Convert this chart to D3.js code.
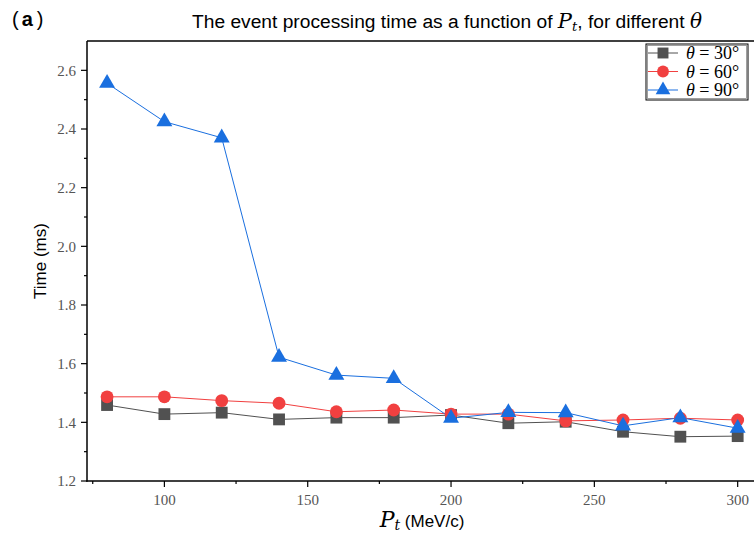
<!DOCTYPE html>
<html>
<head>
<meta charset="utf-8">
<script src="https://cdn.jsdelivr.net/npm/d3@7"></script>
<style>
  body { margin: 0; background: #fff; }
  svg { display: block; }
</style>
</head>
<body>
<svg id="chart" width="754" height="535"></svg>
<script>
// data
const pt = [80, 100, 120, 140, 160, 180, 200, 220, 240, 260, 280, 300];
const time30 = [1.459, 1.428, 1.433, 1.410, 1.416, 1.416, 1.425, 1.397, 1.402, 1.368, 1.351, 1.353];
const time60 = [1.487, 1.487, 1.474, 1.465, 1.436, 1.442, 1.428, 1.428, 1.405, 1.408, 1.414, 1.408];
const time90 = [2.556, 2.425, 2.370, 1.622, 1.561, 1.550, 1.414, 1.434, 1.433, 1.388, 1.416, 1.380];
const seriesNames = ["30", "60", "90"];
const xTicks = [100, 150, 200, 250, 300];
const yTicks = [1.2, 1.4, 1.6, 1.8, 2.0, 2.2, 2.4, 2.6];

const series = [
  {name: seriesNames[0], values: time30, color: "#515151", symbol: d3.symbolSquare, size: 140},
  {name: seriesNames[1], values: time60, color: "#F14040", symbol: d3.symbolCircle, size: 130},
  {name: seriesNames[2], values: time90, color: "#1A6FDF", symbol: d3.symbolTriangle, size: 110}
];

const svg = d3.select("#chart");
const plotLeft = 87, plotTop = 41, plotBottom = 481;

const x = d3.scaleLinear().domain([73, 305.8]).range([plotLeft, 754.3]);
const y = d3.scaleLinear().domain([1.2, 2.7]).range([plotBottom, plotTop]);

const tickFont = "'Liberation Serif', 'DejaVu Serif', serif";
const sans = "'Liberation Sans', Arial, sans-serif";
const mathFont = "'DejaVu Serif', serif";

// frame
svg.append("line").attr("x1", plotLeft).attr("x2", 754).attr("y1", plotTop).attr("y2", plotTop)
   .attr("stroke", "#000").attr("stroke-width", 1.5);

// y axis
const yAxis = svg.append("g").attr("transform", `translate(${plotLeft},0)`);
yAxis.append("line").attr("x1", 0).attr("x2", 0).attr("y1", plotTop).attr("y2", plotBottom + 0.75)
     .attr("stroke", "#000").attr("stroke-width", 1.5);
d3.range(1.3, 2.7, 0.2).forEach(v => {
  yAxis.append("line").attr("x1", -3).attr("x2", 0).attr("y1", y(v)).attr("y2", y(v))
       .attr("stroke", "#000").attr("stroke-width", 1.2);
});
yTicks.forEach(v => {
  yAxis.append("line").attr("x1", -6).attr("x2", 0).attr("y1", y(v)).attr("y2", y(v))
       .attr("stroke", "#000").attr("stroke-width", 1.2);
  yAxis.append("text").attr("x", -11).attr("y", y(v)).attr("dy", "0.35em")
       .attr("text-anchor", "end").style("font-family", tickFont).style("font-size", "15px")
       .attr("fill", "#555").text(d3.format(".1f")(v));
});

// x axis
const xAxis = svg.append("g").attr("transform", `translate(0,${plotBottom})`);
xAxis.append("line").attr("x1", plotLeft - 0.75).attr("x2", 754).attr("y1", 0).attr("y2", 0)
     .attr("stroke", "#000").attr("stroke-width", 1.5);
[75, 125, 175, 225, 275].forEach(v => {
  xAxis.append("line").attr("x1", x(v)).attr("x2", x(v)).attr("y1", 0).attr("y2", 3)
       .attr("stroke", "#000").attr("stroke-width", 1.2);
});
xTicks.forEach(v => {
  xAxis.append("line").attr("x1", x(v)).attr("x2", x(v)).attr("y1", 0).attr("y2", 6)
       .attr("stroke", "#000").attr("stroke-width", 1.2);
  xAxis.append("text").attr("x", x(v)).attr("y", 24)
       .attr("text-anchor", "middle").style("font-family", tickFont).style("font-size", "15px")
       .attr("fill", "#555").text(v);
});

// axis titles
svg.append("text")
   .attr("transform", `translate(46,${(plotTop + plotBottom) / 2}) rotate(-90)`)
   .attr("text-anchor", "middle")
   .style("font-family", sans).style("font-size", "17px")
   .text("Time (ms)");

const xt = svg.append("text").attr("x", 422).attr("y", 527).attr("text-anchor", "middle")
   .style("font-family", sans).style("font-size", "17px");
xt.append("tspan").style("font-family", mathFont).style("font-style", "italic")
  .style("font-size", "22px").text("P");
xt.append("tspan").style("font-family", mathFont).style("font-style", "italic")
  .style("font-size", "14px").attr("dy", 3).text("t");
xt.append("tspan").attr("dy", -3).text(" (MeV/c)");

// title
const tt = svg.append("text").attr("x", 447).attr("y", 28).attr("text-anchor", "middle")
   .style("font-family", sans).style("font-size", "19.2px");
tt.append("tspan").text("The event processing time as a function of ");
tt.append("tspan").style("font-family", mathFont).style("font-style", "italic")
  .style("font-size", "21px").text("P");
tt.append("tspan").style("font-family", mathFont).style("font-style", "italic")
  .style("font-size", "13px").attr("dy", 3).text("t");
tt.append("tspan").attr("dy", -3).text(", for different ");
tt.append("tspan").style("font-family", mathFont).style("font-style", "italic")
  .style("font-size", "20px").text("θ");

// panel label
const pl = svg.append("text").attr("x", 12).attr("y", 26)
   .style("font-family", sans).style("font-size", "20px");
pl.append("tspan").text("(");
pl.append("tspan").attr("dx", 3).style("font-weight", "bold").text("a");
pl.append("tspan").attr("dx", 4).text(")");

// lines and markers
const line = d3.line().x((d, i) => x(pt[i])).y(d => y(d));
series.forEach(s => {
  svg.append("path").datum(s.values).attr("fill", "none")
     .attr("stroke", s.color).attr("stroke-width", 1).attr("d", line);
});
series.forEach(s => {
  svg.append("g").selectAll("path").data(s.values).join("path")
     .attr("transform", (d, i) => `translate(${x(pt[i])},${y(d)})`)
     .attr("d", d3.symbol().type(s.symbol).size(s.size))
     .attr("fill", s.color);
});

// legend
const lg = svg.append("g").attr("transform", "translate(646,44)");
lg.append("rect").attr("x", 0).attr("y", 0).attr("width", 102).attr("height", 56)
  .attr("fill", "#fff").attr("stroke", "#000").attr("stroke-width", 1);
lg.append("rect").attr("x", 1.5).attr("y", 1.5).attr("width", 99).attr("height", 53)
  .attr("fill", "none").attr("stroke", "#888").attr("stroke-width", 0.8);
series.forEach((s, i) => {
  const cy = 9 + i * 18.5;
  lg.append("line").attr("x1", 2).attr("x2", 32).attr("y1", cy).attr("y2", cy)
    .attr("stroke", s.color).attr("stroke-width", 1);
  lg.append("path").attr("transform", `translate(17,${cy})`)
    .attr("d", d3.symbol().type(s.symbol).size(s.size * 0.85)).attr("fill", s.color);
  const t = lg.append("text").attr("x", 40).attr("y", cy + 6)
    .style("font-family", tickFont).style("font-size", "18px");
  t.append("tspan").style("font-style", "italic").text("θ");
  t.append("tspan").text(" = " + s.name + "°");
});
</script>
</body>
</html>
